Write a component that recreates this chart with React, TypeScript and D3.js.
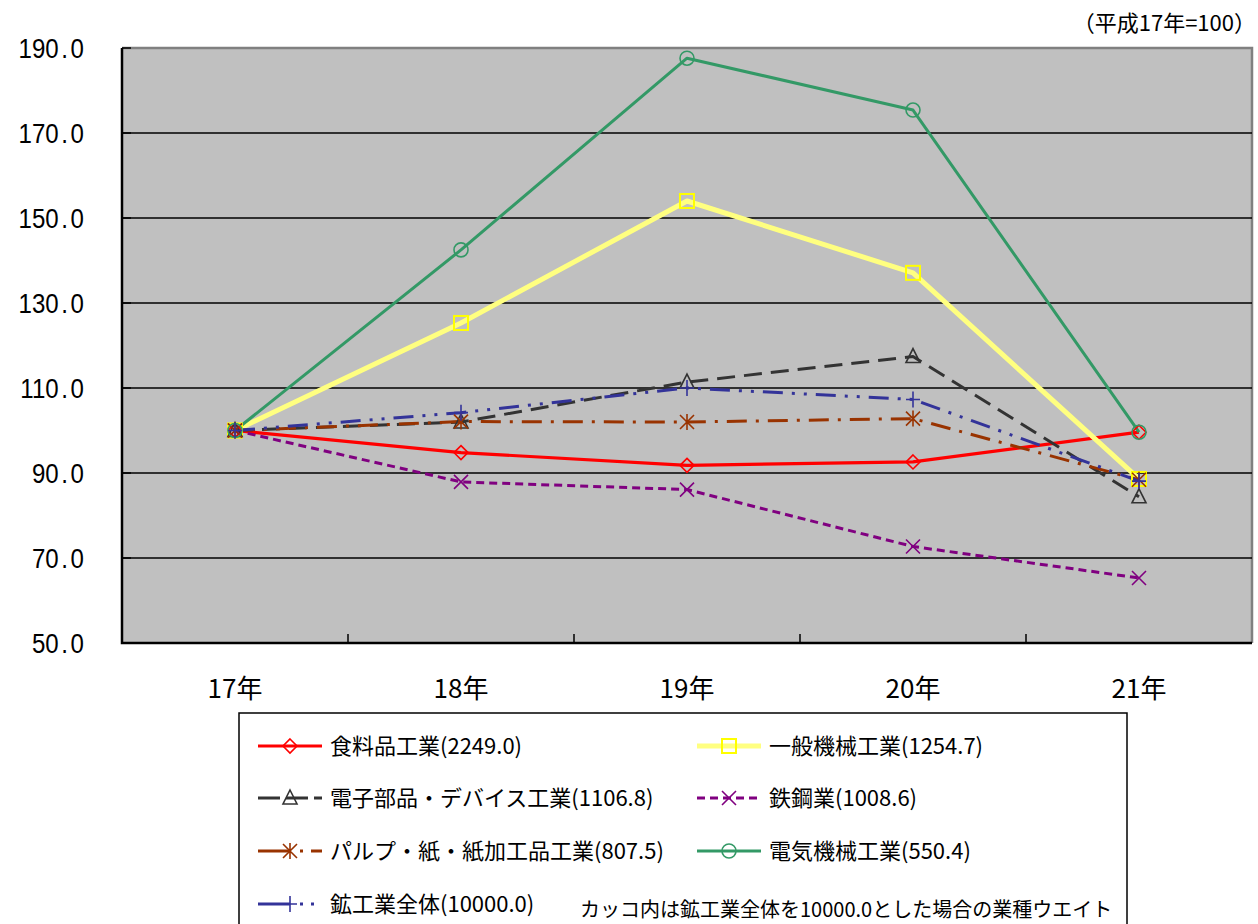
import React from 'react'
import * as d3 from 'd3'

const years = ['17年', '18年', '19年', '20年', '21年']
const yTicks = [50, 70, 90, 110, 130, 150, 170, 190]

const seriesNames = [
  '食料品工業(2249.0)',
  '一般機械工業(1254.7)',
  '電子部品・デバイス工業(1106.8)',
  '鉄鋼業(1008.6)',
  'パルプ・紙・紙加工品工業(807.5)',
  '電気機械工業(550.4)',
  '鉱工業全体(10000.0)',
]
const foodValues = [100, 94.8, 91.8, 92.6, 99.6]
const machineryValues = [100, 125.3, 154.0, 137.1, 88.6]
const electronicValues = [100, 102.0, 111.4, 117.4, 84.4]
const steelValues = [100, 87.9, 86.1, 72.7, 65.3]
const pulpValues = [100, 102.1, 102.0, 102.8, 88.4]
const electricValues = [100, 142.5, 187.6, 175.4, 99.6]
const totalValues = [100, 104.2, 110.0, 107.3, 88.1]

type Marker = 'diamond' | 'square' | 'triangle' | 'x' | 'asterisk' | 'circle' | 'plus'

const styles: { color: string; width: number; dash: string; legendDash: string; marker: Marker; markerColor: string }[] = [
  { color: '#ff0000', width: 3.2, dash: '', legendDash: '', marker: 'diamond', markerColor: '#ff0000' },
  { color: '#ffff80', width: 5, dash: '', legendDash: '', marker: 'square', markerColor: '#ffff00' },
  { color: '#333333', width: 3, dash: '18 9', legendDash: '22 6', marker: 'triangle', markerColor: '#333333' },
  { color: '#800080', width: 3, dash: '8 5', legendDash: '8 5', marker: 'x', markerColor: '#800080' },
  { color: '#993300', width: 3, dash: '20 9 3 9', legendDash: '32 10 3 8 30', marker: 'asterisk', markerColor: '#993300' },
  { color: '#339966', width: 3, dash: '', legendDash: '', marker: 'circle', markerColor: '#339966' },
  { color: '#333399', width: 3, dash: '20 9 3 9 3 9', legendDash: '32 10 3 8 3 30', marker: 'plus', markerColor: '#333399' },
]

const allValues = [foodValues, machineryValues, electronicValues, steelValues, pulpValues, electricValues, totalValues]

const plot = { left: 122, top: 48, right: 1252, bottom: 643 }

function MarkerShape({ type, x, y, color }: { type: Marker; x: number; y: number; color: string }) {
  const s = 7
  const common = { fill: 'none', stroke: color, strokeWidth: 1.6 }
  switch (type) {
    case 'diamond':
      return <path d={`M${x},${y - s}L${x + s},${y}L${x},${y + s}L${x - s},${y}Z`} {...common} />
    case 'square':
      return <rect x={x - s} y={y - s} width={2 * s} height={2 * s} {...common} strokeWidth={2} />
    case 'triangle':
      return <path d={`M${x},${y - s - 1}L${x + s},${y + s - 1}L${x - s},${y + s - 1}Z`} {...common} />
    case 'x':
      return <path d={`M${x - s},${y - s}L${x + s},${y + s}M${x + s},${y - s}L${x - s},${y + s}`} {...common} />
    case 'asterisk':
      return (
        <path
          d={`M${x - s},${y - s}L${x + s},${y + s}M${x + s},${y - s}L${x - s},${y + s}M${x},${y - s - 1}L${x},${y + s + 1}`}
          {...common}
        />
      )
    case 'circle':
      return <circle cx={x} cy={y} r={s} {...common} />
    case 'plus':
      return <path d={`M${x - s},${y}L${x + s},${y}M${x},${y - s - 1}L${x},${y + s + 1}`} {...common} />
  }
}

export default function App() {
  const x = d3.scaleBand<string>().domain(years).range([plot.left, plot.right])
  const y = d3.scaleLinear().domain([50, 190]).range([plot.bottom, plot.top])
  const cx = (d: string) => (x(d) ?? 0) + x.bandwidth() / 2

  const line = d3
    .line<number>()
    .x((_, i) => cx(years[i]))
    .y(d => y(d))

  const jp = '"Noto Sans CJK JP", "Liberation Sans", sans-serif'
  const num = '"Liberation Sans", Arial, sans-serif'

  // 凡例の配置
  const legendRows = [746, 798, 851, 904]
  const legendCols = [258, 697]
  const legendPos = seriesNames.map((_, i) => ({
    lx: legendCols[i % 2],
    ly: legendRows[Math.floor(i / 2)],
  }))

  return (
    <div style={{ position: 'fixed', left: 0, top: 0 }}>
      <svg width={1258} height={924} style={{ display: 'block', background: '#fff' }}>
        {/* plot area */}
        <rect x={plot.left} y={plot.top} width={plot.right - plot.left} height={plot.bottom - plot.top} fill="#c0c0c0" />
        <path
          d={`M${plot.left},${plot.top}H${plot.right}V${plot.bottom}`}
          fill="none"
          stroke="#808080"
          strokeWidth={2.5}
        />
        {yTicks.slice(1, -1).map(t => (
          <line key={t} x1={plot.left} x2={plot.right} y1={y(t)} y2={y(t)} stroke="#000" strokeWidth={1.5} />
        ))}
        <path
          d={`M${plot.left},${plot.top}V${plot.bottom}H${plot.right}`}
          fill="none"
          stroke="#000"
          strokeWidth={2.5}
        />
        {yTicks.map(t => (
          <line key={t} x1={plot.left} x2={plot.left + 9} y1={y(t)} y2={y(t)} stroke="#000" strokeWidth={1.5} />
        ))}
        {years.slice(1).map(yr => (
          <line
            key={yr}
            x1={x(yr)}
            x2={x(yr)}
            y1={plot.bottom}
            y2={plot.bottom - 9}
            stroke="#000"
            strokeWidth={1.5}
          />
        ))}

        {/* y axis labels */}
        {yTicks.map(t => {
          const [a, b] = t.toFixed(1).split('.')
          return (
            <text
              key={t}
              transform={`translate(84,${y(t) + 10}) scale(0.86,1)`}
              textAnchor="end"
              fontFamily={num}
              fontSize={28}
              fill="#000"
            >
              {a}
              <tspan dx={3}>.</tspan>
              <tspan dx={3}>{b}</tspan>
            </text>
          )
        })}

        {/* x axis labels */}
        {years.map(yr => (
          <text key={yr} x={cx(yr)} y={698} textAnchor="middle" fontFamily={jp} fontSize={26} fill="#000">
            {yr}
          </text>
        ))}

        <text x={1256} y={31} textAnchor="end" fontFamily={jp} fontSize={22} fill="#000">
          （平成17年=100）
        </text>

        {/* series */}
        {allValues.map((vals, i) => (
          <path
            key={i}
            d={line(vals) ?? ''}
            fill="none"
            stroke={styles[i].color}
            strokeWidth={styles[i].width}
            strokeDasharray={styles[i].dash || undefined}
            strokeLinejoin="round"
          />
        ))}
        {allValues.map((vals, i) =>
          vals.map((v, j) => (
            <MarkerShape key={`${i}-${j}`} type={styles[i].marker} x={cx(years[j])} y={y(v)} color={styles[i].markerColor} />
          ))
        )}

        {/* legend */}
        <rect x={239} y={713} width={888} height={230} fill="#fff" stroke="#000" strokeWidth={1.5} />
        {seriesNames.map((name, i) => {
          const { lx, ly } = legendPos[i]
          return (
            <g key={name}>
              <line
                x1={lx}
                x2={lx + 64}
                y1={ly}
                y2={ly}
                stroke={styles[i].color}
                strokeWidth={styles[i].width}
                strokeDasharray={styles[i].legendDash || undefined}
              />
              <MarkerShape type={styles[i].marker} x={lx + 32} y={ly} color={styles[i].markerColor} />
              <text x={lx + 72} y={ly + 8} fontFamily={jp} fontSize={22} fill="#000">
                {name}
              </text>
            </g>
          )
        })}
        <text x={580} y={917} fontFamily={jp} fontSize={20} fill="#000">
          カッコ内は鉱工業全体を10000.0とした場合の業種ウエイト
        </text>
      </svg>
    </div>
  )
}
